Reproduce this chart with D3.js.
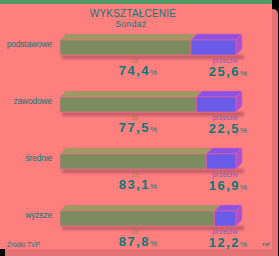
<!DOCTYPE html>
<html>
<head>
<meta charset="utf-8">
<script src="https://cdn.jsdelivr.net/npm/d3@7"></script>
<style>
  html, body { margin: 0; padding: 0; background: #000; }
  svg { display: block; }
  text { font-family: "Liberation Sans", Arial, sans-serif; }
</style>
</head>
<body>
<div id="chart"></div>
<script>
// dane sondażu
const categories = ['podstawowe', 'zawodowe', 'średnie', 'wyższe']
const za = [74.4, 77.5, 83.1, 87.8]
const przeciw = [25.6, 22.5, 16.9, 12.2]

const width = 279
const height = 256
const teal = '#0b7878'

const svg = d3.select('#chart').append('svg')
  .attr('width', width)
  .attr('height', height)

const defs = svg.append('defs')
defs.append('filter').attr('id', 'blur')
  .attr('x', '-20%').attr('y', '-100%').attr('width', '140%').attr('height', '300%')
  .append('feGaussianBlur').attr('stdDeviation', 1.6)

// tło: czarne, zielony pasek, cień i różowy panel
svg.append('rect').attr('width', width).attr('height', height).attr('fill', '#000')
svg.append('rect').attr('x', 0).attr('y', 0).attr('width', 272).attr('height', 4).attr('fill', '#4f9a62')
svg.append('rect')
  .attr('x', 5).attr('y', 9).attr('width', 273).attr('height', 252)
  .attr('rx', 5).attr('fill', '#e57276')
svg.append('rect')
  .attr('x', 0).attr('y', 4).attr('width', 272).attr('height', 245)
  .attr('fill', '#ff7f7f')

// tytuł
svg.append('text')
  .attr('x', 133).attr('y', 17)
  .attr('text-anchor', 'middle')
  .attr('fill', teal)
  .attr('font-size', 10)
  .attr('letter-spacing', 0.2)
  .text('WYKSZTAŁCENIE')
svg.append('text')
  .attr('x', 131).attr('y', 27)
  .attr('text-anchor', 'middle')
  .attr('fill', teal)
  .attr('font-size', 8.5)
  .attr('letter-spacing', 0.4)
  .text('Sondaż')

// skale
const x = d3.scaleLinear().domain([0, 100]).range([60, 236])
const y = d3.scalePoint().domain(categories).range([40, 211])
const barH = 15
const dx = 6
const dy = 6

const rows = categories.map((c, i) => ({ cat: c, za: za[i], przeciw: przeciw[i] }))

const fmt = v => v.toFixed(1).replace('.', ',')

const g = svg.selectAll('.row').data(rows).enter()
  .append('g').attr('class', 'row')
  .attr('transform', d => `translate(0,${y(d.cat)})`)

// cień pod słupkiem
g.append('rect')
  .attr('x', x(0) + 2).attr('y', barH)
  .attr('width', x(100) - x(0) + dx).attr('height', 4)
  .attr('fill', '#c05a66')
  .attr('filter', 'url(#blur)')

const x0 = x(0)
const x1 = x(100)

// górna ściana - część "za"
g.append('path')
  .attr('d', d => {
    const xm = x(d.za)
    return `M${x0},0 L${x0 + dx},${-dy} L${xm + dx},${-dy} L${xm},0 Z`
  })
  .attr('fill', '#9c9a5e')
  .attr('stroke', '#f2708f').attr('stroke-width', 0.6)
// górna ściana - część "przeciw"
g.append('path')
  .attr('d', d => {
    const xm = x(d.za)
    return `M${xm},0 L${xm + dx},${-dy} L${x1 + dx},${-dy} L${x1},0 Z`
  })
  .attr('fill', '#8c52e4')
  .attr('stroke', '#f0609a').attr('stroke-width', 0.6)
// prawa ściana
g.append('path')
  .attr('d', `M${x1},0 L${x1 + dx},${-dy} L${x1 + dx},${barH - dy} L${x1},${barH} Z`)
  .attr('fill', '#a552d6')
  .attr('stroke', '#f0609a').attr('stroke-width', 0.6)
// przód
g.append('rect')
  .attr('x', x0).attr('y', 0)
  .attr('width', d => x(d.za) - x0).attr('height', barH)
  .attr('fill', '#7d8c5f')
  .attr('stroke', '#f2708f').attr('stroke-width', 0.6)
g.append('rect')
  .attr('x', d => x(d.za)).attr('y', 0)
  .attr('width', d => x1 - x(d.za)).attr('height', barH)
  .attr('fill', '#6a5ae8')
  .attr('stroke', '#f0609a').attr('stroke-width', 0.6)

// etykiety kategorii
g.append('text')
  .attr('x', 52).attr('y', 7)
  .attr('text-anchor', 'end')
  .attr('fill', teal)
  .attr('font-size', 8.5)
  .attr('letter-spacing', -0.2)
  .text(d => d.cat)

// podpisy "za" / "przeciw"
g.append('text')
  .attr('x', 135).attr('y', 23)
  .attr('text-anchor', 'middle')
  .attr('fill', '#a48050')
  .attr('font-size', 6.5)
  .text('za')
g.append('text')
  .attr('x', 225).attr('y', 23)
  .attr('text-anchor', 'middle')
  .attr('fill', '#7a5cc8')
  .attr('font-size', 7.5)
  .text('przeciw')

// wartości procentowe
const valZa = g.append('text')
  .attr('x', 138).attr('y', 35)
  .attr('text-anchor', 'middle')
  .attr('fill', teal)
  .attr('font-weight', 'bold')
  .attr('font-size', 13)
  .attr('letter-spacing', 1.5)
valZa.append('tspan').text(d => fmt(d.za))
valZa.append('tspan').attr('font-size', 8).attr('font-weight', 'normal').attr('letter-spacing', 0).text('%')

const valPrz = g.append('text')
  .attr('x', 228).attr('y', 36)
  .attr('text-anchor', 'middle')
  .attr('fill', teal)
  .attr('font-weight', 'bold')
  .attr('font-size', 13)
  .attr('letter-spacing', 1.5)
valPrz.append('tspan').text(d => fmt(d.przeciw))
valPrz.append('tspan').attr('font-size', 8).attr('font-weight', 'normal').attr('letter-spacing', 0).text('%')

// źródło
svg.append('text')
  .attr('x', 7).attr('y', 247)
  .attr('fill', teal)
  .attr('font-size', 6.5)
  .text('Źródło TVP')
svg.append('text')
  .attr('x', 262).attr('y', 246)
  .attr('fill', teal)
  .attr('font-size', 4)
  .attr('font-weight', 'bold')
  .text('TVP')
</script>
</body>
</html>
